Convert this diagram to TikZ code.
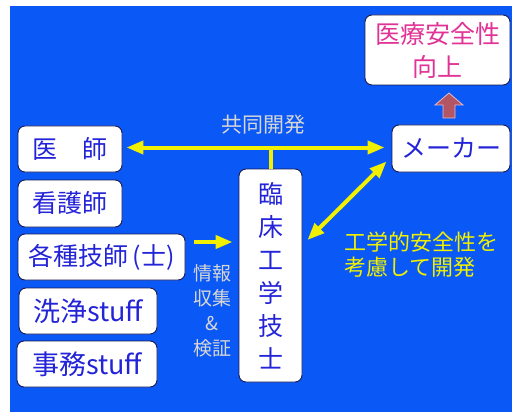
\documentclass[tikz,border=0pt]{standalone}
\usepackage{fontspec}
\newfontfamily\jp{Noto Sans CJK JP}
\usetikzlibrary{arrows.meta}
\definecolor{bgblue}{RGB}{10,88,245}
\definecolor{boxline}{RGB}{25,25,80}
\definecolor{txtblue}{RGB}{35,35,215}
\definecolor{txtpink}{RGB}{225,50,150}
\definecolor{ylw}{RGB}{240,240,0}
\definecolor{lgray}{RGB}{215,215,215}
\definecolor{brn}{RGB}{180,85,100}
\definecolor{brnedge}{RGB}{225,190,205}
\begin{document}
\begin{tikzpicture}[x=1pt,y=-1pt,
  box/.style={draw=boxline, line width=0.9pt, fill=white, rounded corners=7pt,
    inner sep=0pt, text=txtblue, font=\jp\fontsize{25}{30}\selectfont},
  yline/.style={draw=ylw, line width=4pt},
  >={Triangle[length=17pt,width=13pt]}]
\useasboundingbox (0,0) rectangle (512,412);
\fill[white] (0,0) rectangle (512,412);
\fill[bgblue] (10,6) rectangle (512,412);
% boxes
\node[box, text=txtpink, minimum width=145pt, minimum height=70pt, align=center,
  font=\jp\fontsize{25}{33}\selectfont] (safety) at (437.5,50) {医療安全性\\向上};
\node[box, minimum width=118pt, minimum height=47pt] (maker) at (451,148.5) {メーカー};
\node[box, minimum width=104pt, minimum height=46pt] (ishi) at (70,149) {医　師};
\node[box, minimum width=104pt, minimum height=47pt] (kango) at (70,203.5) {看護師};
\node[box, minimum width=167pt, minimum height=46pt] (kakushu) at (101.5,257) {各種技師\,(士)};
\node[box, minimum width=138pt, minimum height=46pt, font=\jp\fontsize{27}{30}\selectfont] (senjo) at (88,311) {洗浄stuff};
\node[box, minimum width=140pt, minimum height=46pt, font=\jp\fontsize{27}{30}\selectfont] (jimu) at (87,364) {事務stuff};
\node[box, minimum width=63pt, minimum height=213pt, align=center,
  font=\jp\fontsize{25}{33}\selectfont] (rinsho) at (270.5,275.5) {臨\\床\\工\\学\\技\\士};
% labels
\node[font=\jp\fontsize{21}{25}\selectfont, text=lgray, inner sep=0pt] (kyodo) at (263,125) {共同開発};
\node[font=\jp\fontsize{19}{25}\selectfont, text=lgray, align=center, inner sep=0pt] (joho) at (212,311) {情報\\収集\\\&\\検証};
\node[font=\jp\fontsize{22}{25}\selectfont, text=ylw, align=left, anchor=west, inner sep=0pt] (kogaku) at (344,255) {工学的安全性を\\考慮して開発};
% connectors
\draw[yline,<->] ([xshift=4pt,yshift=1.5pt]ishi.east) -- ([xshift=-7pt,yshift=1.5pt]ishi.east -| maker.west);
\draw[yline] (rinsho.north) -- (rinsho.north |- ishi.east);
\draw[yline,<->] ([xshift=5pt,yshift=35.5pt]rinsho.east) -- ([xshift=-5pt,yshift=11pt]maker.south west);
\coordinate (ka) at ([xshift=9pt,yshift=15pt]kakushu.east);
\draw[yline,->] (ka) -- ([xshift=-6pt]ka -| rinsho.west);
\filldraw[fill=brn, draw=brnedge, line width=0.8pt]
  (449,93) -- (463,105) -- (455,105) -- (455,118) -- (443,118) -- (443,105) -- (435,105) -- cycle;
\end{tikzpicture}
\end{document}
